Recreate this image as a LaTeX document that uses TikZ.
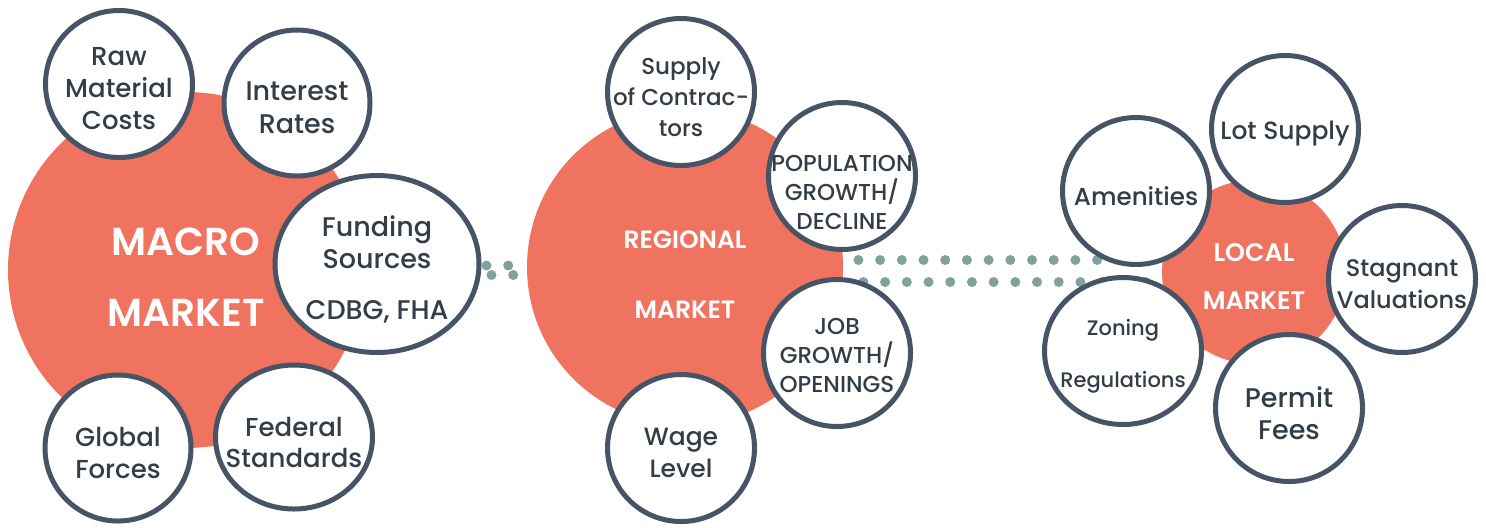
\documentclass[tikz,border=0pt]{standalone}
\usepackage{fontspec}
\setmainfont{Poppins}[UprightFont={* Medium}, BoldFont={* SemiBold}]
\usepackage{tikz}
\usetikzlibrary{shapes.geometric, backgrounds}
\definecolor{salmon}{HTML}{F07360}
\definecolor{slate}{HTML}{475465}
\definecolor{ink}{HTML}{333D47}
\definecolor{dotgrey}{HTML}{82A09E}

\begin{document}
\begin{tikzpicture}[x=0.5pt, y=-0.5pt]
	\tikzstyle{market_style}=[circle, fill=salmon, inner sep=0pt]
	\tikzstyle{market_text}=[text=white, align=center, font=\bfseries]
	\tikzstyle{ring_style}=[circle, draw=slate, line width=2.5pt, fill=white, inner sep=0pt, minimum size=73.5pt]
	\tikzstyle{oval_style}=[ellipse, draw=slate, line width=2.5pt, fill=white, inner sep=0pt]
	\tikzstyle{label_style}=[text=ink, align=center, yshift=-2.5pt, font=\fontsize{12.5}{16}\selectfont]
	\tikzstyle{caps_style}=[text=ink, align=center, yshift=-1pt, font=\fontsize{11.5}{14.5}\selectfont]
	\tikzstyle{dot_style}=[draw=dotgrey, line width=5pt, line cap=round, dash pattern=on 0pt off 10.85pt]
	\useasboundingbox (0,0) rectangle (1486,527);
	% macro market
	\node at (186, 270) [market_style, minimum size=178pt] (macro) {};
	\node at (119, 84) [ring_style] (raw_costs) {};
	\node at (297, 103) [ring_style, minimum size=73pt] (interest_rates) {};
	\node at (377, 264) [oval_style, minimum width=102pt, minimum height=88.5pt] (funding_sources) {};
	\node at (118, 448) [ring_style, minimum size=73pt] (global_forces) {};
	\node at (294, 437) [oval_style, minimum width=78.5pt, minimum height=72pt] (federal_standards) {};
	\node at ([yshift=-3.5pt]macro.center) [market_text, font=\bfseries\fontsize{19.5}{35.5}\selectfont] (macro_text) {MACRO\\MARKET};
	\node at (raw_costs) [label_style, font=\fontsize{13}{16}\selectfont] (raw_costs_text) {Raw\\Material\\Costs};
	\node at (interest_rates) [label_style, font=\fontsize{13.5}{16.5}\selectfont] (interest_rates_text) {Interest\\Rates};
	\node at (funding_sources) [label_style, font=\fontsize{13.5}{16}\selectfont] (funding_sources_text) {Funding\\Sources\\[9.5pt]CDBG, FHA};
	\node at (global_forces) [label_style, font=\fontsize{13}{16}\selectfont] (global_forces_text) {Global\\Forces};
	\node at (federal_standards) [label_style, font=\fontsize{13}{15.5}\selectfont] (federal_standards_text) {Federal\\Standards};
	% regional market
	\node at (685, 267) [market_style, minimum size=158pt] (regional) {};
	\node at (681, 92) [ring_style] (supply_contractors) {};
	\node at (842, 176) [ring_style] (population) {};
	\node at (837, 353) [ring_style] (job_growth) {};
	\node at (681, 448) [ring_style] (wage_level) {};
	\node at ([yshift=-4pt]regional.center) [market_text, font=\bfseries\fontsize{12.5}{35}\selectfont] (regional_text) {REGIONAL\\MARKET};
	\node at (supply_contractors) [label_style, font=\fontsize{11.5}{15.5}\selectfont] (supply_contractors_text) {Supply\\of Contrac-\\tors};
	\node at ([yshift=-7pt]population.center) [caps_style] (population_text) {POPULATION\\GROWTH/\\DECLINE};
	\node at (job_growth) [caps_style] (job_growth_text) {JOB\\GROWTH/\\OPENINGS};
	\node at (wage_level) [label_style] (wage_level_text) {Wage\\Level};
	% local market
	\node at (1254, 272) [market_style, minimum size=92pt] (local) {};
	\node at (1285, 129) [ring_style] (lot_supply) {};
	\node at (1136, 191) [ring_style] (amenities) {};
	\node at (1402, 279) [ring_style] (stagnant) {};
	\node at (1123, 351) [oval_style, minimum width=78.5pt, minimum height=73.5pt] (zoning) {};
	\node at (1289, 408) [ring_style] (permit_fees) {};
	\node at ([yshift=-2pt]local.center) [market_text, font=\bfseries\fontsize{12.7}{24}\selectfont] (local_text) {LOCAL\\MARKET};
	\node at (lot_supply) [label_style] (lot_supply_text) {Lot Supply};
	\node at (amenities) [label_style, font=\fontsize{12.3}{16}\selectfont] (amenities_text) {Amenities};
	\node at (stagnant) [label_style, font=\fontsize{12}{16}\selectfont] (stagnant_text) {Stagnant\\Valuations};
	\node at (zoning) [label_style, font=\fontsize{10.5}{26}\selectfont] (zoning_text) {Zoning\\Regulations};
	\node at (permit_fees) [label_style, font=\fontsize{13.5}{16}\selectfont] (permit_fees_text) {Permit\\Fees};
	% connect: dots behind the circles
	\begin{scope}[on background layer]
		\draw[dot_style, shorten <=2.5pt] ([yshift=-0.75pt]funding_sources.east) -- ([yshift=0.75pt]regional.west);
		\draw[dot_style, shorten <=5pt] ([yshift=-5.5pt]funding_sources.east) -- ([yshift=-4pt]regional.west);
		\draw[dot_style, shorten <=7.5pt] ([yshift=3.5pt]regional.east) -- ([yshift=6pt]local.west);
		\draw[dot_style, shorten <=10pt] ([yshift=-7.5pt]regional.east) -- ([yshift=-5pt]local.west);
	\end{scope}
\end{tikzpicture}
\end{document}
